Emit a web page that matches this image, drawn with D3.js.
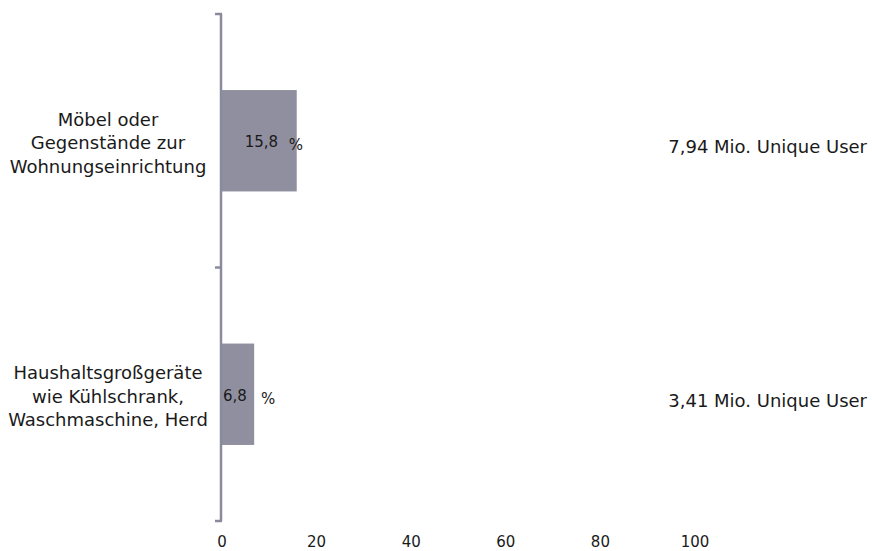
<!DOCTYPE html>
<html>
<head>
<meta charset="utf-8">
<script src="https://cdn.jsdelivr.net/npm/d3@7"></script>
<style>
  html, body { margin: 0; padding: 0; background: #fff; }
  svg { display: block; font-family: "DejaVu Sans", Verdana, sans-serif; }
</style>
</head>
<body>
<svg id="chart" width="872" height="551"></svg>
<script>
// Category labels (line-broken) and shares in percent
const categories = [
  ["Möbel oder", "Gegenstände zur", "Wohnungseinrichtung"],
  ["Haushaltsgroßgeräte", "wie Kühlschrank,", "Waschmaschine, Herd"]
];
const shares = [15.8, 6.8];
const shareLabels = ["15,8", "6,8"];
const reach = ["7,94 Mio. Unique User", "3,41 Mio. Unique User"];
const xTicks = [0, 20, 40, 60, 80, 100];

const svg = d3.select("#chart");
const axisColor = "#8a8a9e";
const barColor = "#908f9f";
const textColor = "#1a1a1a";

const x = d3.scaleLinear().domain([0, 100]).range([222, 695]);
const y = d3.scaleBand()
  .domain(d3.range(categories.length))
  .range([14, 521])
  .paddingInner(0.6)
  .paddingOuter(0.3);

// Bars
svg.append("g").selectAll("rect")
  .data(shares)
  .join("rect")
  .attr("x", x(0))
  .attr("y", (d, i) => y(i))
  .attr("width", d => x(d) - x(0))
  .attr("height", y.bandwidth())
  .attr("fill", barColor);

// Category axis: vertical line with ticks at band boundaries
const axisX = x(0) - 1;
const bounds = [14, 14 + y.step(), 521];
svg.append("line")
  .attr("x1", axisX).attr("x2", axisX)
  .attr("y1", bounds[0]).attr("y2", bounds[2])
  .attr("stroke", axisColor).attr("stroke-width", 2.5);
svg.append("g").selectAll("line")
  .data(bounds)
  .join("line")
  .attr("x1", axisX - 6).attr("x2", axisX + 1)
  .attr("y1", d => d).attr("y2", d => d)
  .attr("stroke", axisColor).attr("stroke-width", 2.5);

// Category labels
const catG = svg.append("g")
  .attr("font-size", 18)
  .attr("fill", textColor)
  .attr("text-anchor", "middle");
categories.forEach((lines, i) => {
  const cy = y(i) + y.bandwidth() / 2 + 2;
  const lh = 23.5;
  const t = catG.append("text");
  lines.forEach((ln, k) => {
    t.append("tspan")
      .attr("x", 108)
      .attr("y", cy + (k - (lines.length - 1) / 2) * lh)
      .attr("dy", "0.35em")
      .text(ln);
  });
});

// Value labels on bars
const valG = svg.append("g").attr("font-size", 15).attr("fill", textColor);
shares.forEach((v, i) => {
  const cy = y(i) + y.bandwidth() / 2 + 1;
  valG.append("text")
    .attr("x", Math.max(x(v) - 52, x(0) + 1)).attr("y", cy)
    .attr("dy", "0.35em")
    .text(shareLabels[i]);
  valG.append("text")
    .attr("x", Math.max(x(v) - 8, x(0) + 39)).attr("y", cy + 3)
    .attr("dy", "0.35em")
    .text("%");
});

// Reach labels on the right
svg.append("g").attr("font-size", 18).attr("fill", textColor)
  .selectAll("text")
  .data(reach)
  .join("text")
  .attr("x", 867)
  .attr("y", (d, i) => y(i) + y.bandwidth() / 2 + 6)
  .attr("dy", "0.35em")
  .attr("text-anchor", "end")
  .text(d => d);

// Value axis labels (no line)
svg.append("g").attr("font-size", 15).attr("fill", textColor)
  .selectAll("text")
  .data(xTicks)
  .join("text")
  .attr("x", d => x(d))
  .attr("y", 542)
  .attr("dy", "0.35em")
  .attr("text-anchor", "middle")
  .text(d => d);
</script>
</body>
</html>
